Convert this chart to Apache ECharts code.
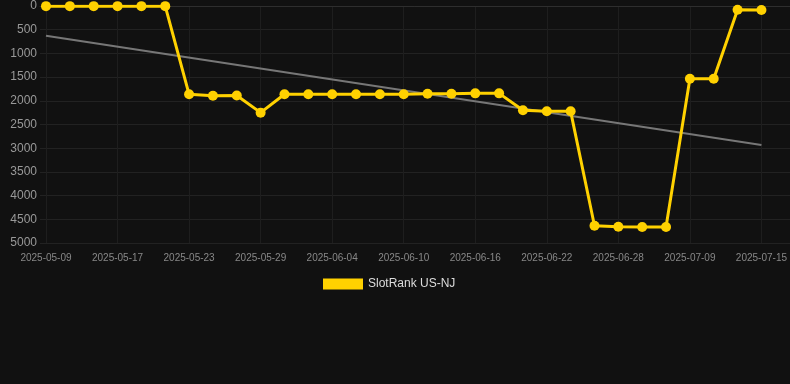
<!DOCTYPE html>
<html><head><meta charset="utf-8">
<script src="https://cdn.jsdelivr.net/npm/echarts@6/dist/echarts.min.js"></script>
<style>html,body{margin:0;padding:0;background:#111111;}#c{width:790px;height:384px;}</style>
</head><body><div id="c"></div>
<script>
var categories = ["2025-05-09","2025-05-11","2025-05-14","2025-05-17","2025-05-19","2025-05-21","2025-05-23","2025-05-25","2025-05-27","2025-05-29","2025-05-31","2025-06-02","2025-06-04","2025-06-06","2025-06-08","2025-06-10","2025-06-12","2025-06-14","2025-06-16","2025-06-18","2025-06-20","2025-06-22","2025-06-24","2025-06-26","2025-06-28","2025-07-01","2025-07-05","2025-07-09","2025-07-11","2025-07-13","2025-07-15"];
var rankValues = [3,3,3,3,3,3,1863,1892,1890,2250,1863,1863,1863,1863,1863,1860,1850,1850,1843,1843,2200,2222,2222,4635,4656,4662,4662,1534,1534,78,84];
var trendStart = 627;
var trendEnd = 2932;
var yTicks = [0,500,1000,1500,2000,2500,3000,3500,4000,4500,5000];

var trendData = categories.map(function(c,i){ return i===0 ? trendStart : (i===categories.length-1 ? trendEnd : null); });
var FONT = 'Liberation Sans, Arial, sans-serif';

var chart = echarts.init(document.getElementById('c'));
chart.setOption({
  backgroundColor: '#111111',
  animation: false,
  grid: [
    {left: 46, right: 28, top: 6, bottom: 141, containLabel: false},
    {left: 40, right: 0, top: 6, bottom: 141, containLabel: false}
  ],
  legend: {
    data: [{name: 'SlotRank US-NJ', icon: 'rect'}],
    top: 273, left: 318,
    itemWidth: 40, itemHeight: 11, itemGap: 10,
    textStyle: {color: '#dddddd', fontSize: 12, fontFamily: FONT}
  },
  xAxis: [
    {
      type: 'category', data: categories, boundaryGap: false, gridIndex: 0,
      axisLine: {show: false},
      axisTick: {show: false},
      axisLabel: {color: '#888888', fontSize: 10, interval: 2, margin: 10, fontFamily: FONT},
      splitLine: {show: true, interval: 2, lineStyle: {color: '#1e1e1e'}}
    },
    {
      type: 'value', gridIndex: 1, min: 0, max: 1,
      axisLine: {show: true, lineStyle: {color: '#2e2e2e'}},
      axisTick: {show: false}, axisLabel: {show: false}, splitLine: {show: false}
    }
  ],
  yAxis: [
    {
      type: 'value', gridIndex: 0, inverse: true, min: yTicks[0], max: yTicks[yTicks.length-1], interval: 500,
      axisLine: {show: false}, axisTick: {show: false},
      axisLabel: {color: '#999999', fontSize: 12, margin: 9, fontFamily: FONT, formatter: function(v){ return String(v); }},
      splitLine: {show: false}
    },
    {
      type: 'value', gridIndex: 1, inverse: true, min: yTicks[0], max: yTicks[yTicks.length-1], interval: 500,
      axisLine: {show: false}, axisTick: {show: false}, axisLabel: {show: false},
      splitLine: {lineStyle: {color: '#222222'}}
    }
  ],
  series: [
    {
      name: 'SlotRank US-NJ', type: 'line', data: rankValues, xAxisIndex: 0, yAxisIndex: 0,
      color: '#FFD100',
      lineStyle: {width: 3, color: '#FFD100'},
      itemStyle: {color: '#FFD100'},
      symbol: 'circle', symbolSize: 10, z: 3
    },
    {
      name: 'trend', type: 'line', data: trendData, connectNulls: true, xAxisIndex: 0, yAxisIndex: 0,
      symbol: 'none', lineStyle: {width: 2, color: '#777777'}, z: 2, silent: true
    }
  ]
});
</script></body></html>
